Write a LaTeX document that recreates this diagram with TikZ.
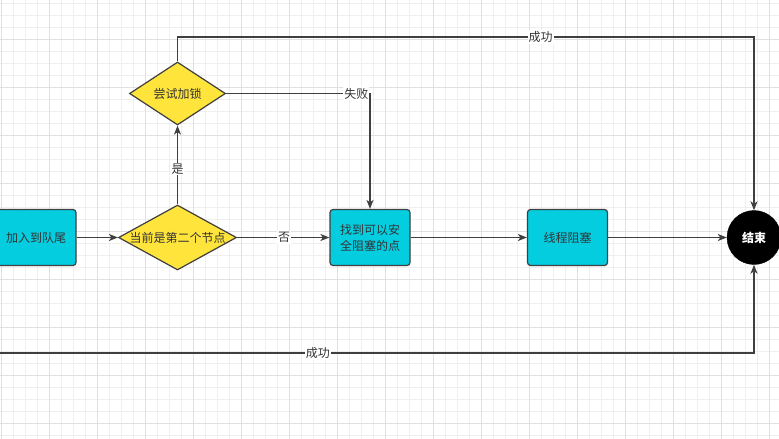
\documentclass[tikz,border=0pt]{standalone}
\usepackage{fontspec}
\newfontfamily\cjk{Noto Sans CJK SC}
\usetikzlibrary{shapes.geometric}
\usetikzlibrary{arrows.meta}
\usetikzlibrary{positioning}
\definecolor{boxcyan}{HTML}{05CDE0}
\definecolor{boxyellow}{HTML}{FFE43C}
\definecolor{linegray}{HTML}{3F3F3F}
\definecolor{textgray}{HTML}{333333}
\definecolor{gridminor}{HTML}{EFEFEF}
\definecolor{gridmajor}{HTML}{E0E0E0}
\tikzset{procbox/.style={draw=linegray, fill=boxcyan, rounded corners=3pt, line width=1.2pt, minimum width=80pt, minimum height=56pt, align=center, text=textgray, font=\cjk\fontsize{12}{16}\selectfont}}
\tikzset{decide/.style={diamond, aspect=1.8, inner sep=0pt, draw=linegray, fill=boxyellow, line width=1.2pt, text=textgray, font=\cjk\fontsize{12}{16}\selectfont}}
\tikzset{endnode/.style={circle, draw=black, fill=black, minimum size=54pt, inner sep=0pt, text=white, font=\cjk\bfseries\fontsize{12}{16}\selectfont}}
\tikzset{flow/.style={draw=linegray, line width=1.2pt, -{Stealth[length=9pt, width=7pt, inset=2.5pt]}}}
\tikzset{tag/.style={fill=white, inner sep=1pt, text=textgray, font=\cjk\fontsize{12}{14}\selectfont}}

\begin{document}
\begin{tikzpicture}[x=1pt, y=-1pt]

\useasboundingbox (0,0) rectangle (779,439);
\clip (0,0) rectangle (779,439);
\fill[white] (0,0) rectangle (779,439);

% grid
\foreach \x in {1,13,...,779} \draw[gridminor, line width=1pt] (\x,0) -- (\x,439);
\foreach \y in {3,15,...,439} \draw[gridminor, line width=1pt] (0,\y) -- (779,\y);
\foreach \x in {1,49,...,779} \draw[gridmajor, line width=1pt] (\x,0) -- (\x,439);
\foreach \y in {39,87,...,439} \draw[gridmajor, line width=1pt] (0,\y) -- (779,\y);

\node[procbox] (enqueue) at (36,237.5) {加入到队尾};
\node[decide, minimum width=118pt, minimum height=65pt] (second) at (177.5,237.5) {当前是第二个节点};
\node[decide, minimum width=96pt, minimum height=63pt] (trylock) at (177.5,93.5) {尝试加锁};
\node[procbox] (findsafe) at (370,237.5) {找到可以安\\全阻塞的点};
\node[procbox] (park) at (567.5,237.5) {线程阻塞};
\node[endnode] (finish) at (754,237.5) {结束};

\coordinate (topturn) at (trylock.north |- 0,37);
\coordinate (bottomstart) at (-2,353);

\draw[flow] (enqueue.east) -- (second.west);
\draw[flow] (second.east) -- node[tag, pos=0.51] {否} (findsafe.west);
\draw[flow] (second.north) -- node[tag, pos=0.45] {是} (trylock.south);
\draw[flow] (trylock.east) -| node[tag, pos=0.5, anchor=east] {失败} (findsafe.north);
\draw[flow] (trylock.north) -- (topturn) -- node[tag, pos=0.63] {成功} (topturn -| finish.north) -- (finish.north);
\draw[flow] (findsafe.east) -- (park.west);
\draw[flow] (park.east) -- (finish.west);
\draw[flow] (bottomstart) -- node[tag, pos=0.423] {成功} (bottomstart -| finish.south) -- (finish.south);

\end{tikzpicture}
\end{document}
